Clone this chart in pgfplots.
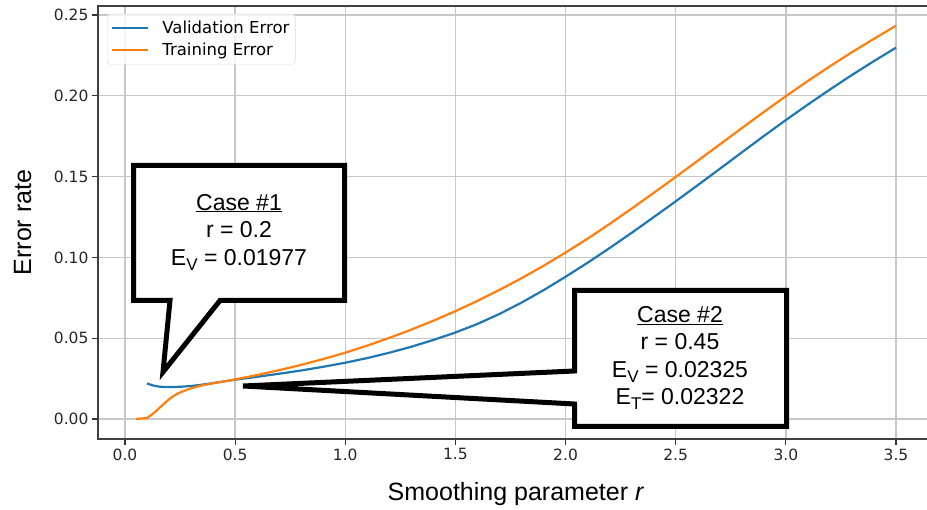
\documentclass[border=0pt]{standalone}
\usepackage{pgfplots}
\pgfplotsset{compat=1.18}
\usepackage{fontspec}
\setmainfont{Liberation Sans}
\newfontfamily\dejavu{DejaVu Sans}
\definecolor{mblue}{HTML}{1F77B4}
\definecolor{morange}{HTML}{FF7F0E}

\pgfplotstableread{
x y
0.10 0.0220
0.125 0.0208
0.15 0.0201
0.175 0.0198
0.20 0.01977
0.25 0.0199
0.30 0.0204
0.35 0.0212
0.40 0.0222
0.45 0.02325
0.50 0.0243
0.60 0.0261
0.70 0.0280
0.80 0.0300
0.90 0.0323
1.00 0.0348
1.10 0.0377
1.20 0.0410
1.30 0.0447
1.40 0.0489
1.50 0.0535
1.60 0.0588
1.70 0.0650
1.80 0.0720
1.90 0.0797
2.00 0.0880
2.10 0.0967
2.20 0.1058
2.30 0.1152
2.40 0.1249
2.50 0.1347
2.60 0.1447
2.70 0.1548
2.80 0.1650
2.90 0.1751
3.00 0.1850
3.10 0.1946
3.20 0.2039
3.30 0.2129
3.40 0.2215
3.50 0.2298
}\valtable

\pgfplotstableread{
x y
0.05 0.0000
0.10 0.0006
0.125 0.0030
0.15 0.0060
0.175 0.0092
0.20 0.0122
0.225 0.0146
0.25 0.0164
0.30 0.0190
0.35 0.0208
0.40 0.0221
0.45 0.02322
0.50 0.0245
0.60 0.0272
0.70 0.0302
0.80 0.0335
0.90 0.0371
1.00 0.0410
1.10 0.0454
1.20 0.0502
1.30 0.0553
1.40 0.0608
1.50 0.0667
1.60 0.0731
1.70 0.0799
1.80 0.0871
1.90 0.0948
2.00 0.1030
2.10 0.1116
2.20 0.1207
2.30 0.1302
2.40 0.1399
2.50 0.1498
2.60 0.1598
2.70 0.1699
2.80 0.1800
2.90 0.1900
3.00 0.1998
3.10 0.2092
3.20 0.2183
3.30 0.2270
3.40 0.2353
3.50 0.2434
}\traintable

\begin{document}
\begin{tikzpicture}
\begin{axis}[
  at={(98pt,71pt)}, anchor=south west,
  width=836pt, height=433pt, scale only axis,
  xmin=-0.1225, xmax=3.6725, ymin=-0.0124, ymax=0.2556,
  xtick={0,0.5,1,1.5,2,2.5,3,3.5},
  ytick={0,0.05,0.1,0.15,0.2,0.25},
  xticklabel style={/pgf/number format/.cd,fixed,fixed zerofill,precision=1},
  yticklabel style={/pgf/number format/.cd,fixed,fixed zerofill,precision=2},
  /pgf/number format/assume math mode=true,
  ticklabel style={font=\dejavu\fontsize{15.5}{18}\selectfont, text=black!85},
  tick pos=left, tick align=outside, major tick length=6pt,
  tick style={black!80, line width=1.2pt},
  axis line style={black!75, line width=1.4pt},
  grid=major, major grid style={black!22, line width=1.3pt},
  xlabel={Smoothing parameter \textit{r}},
  ylabel={Error rate},
  every axis x label/.style={at={(axis description cs:0.5,-0.141)}, anchor=base, font=\fontsize{25}{28}\selectfont},
  every axis y label/.style={at={(axis description cs:-0.09,0.5)}, rotate=90, anchor=center, font=\fontsize{25}{28}\selectfont},
  legend style={at={(axis description cs:0.0108,0.9815)}, anchor=north west,
    draw=black!15, fill=white, fill opacity=0.8, text opacity=1, rounded corners=3pt,
    font=\dejavu\fontsize{16.5}{19}\selectfont, cells={anchor=west},
    row sep=4pt, inner xsep=4pt, inner ysep=5pt},
  legend image code/.code={\draw[#1, line width=2.2pt] (0pt,0pt) -- (36pt,0pt);},
]
\addplot[mblue, line width=2.2pt] table[x=x,y=y] {\valtable};
\addlegendentry{\hspace{11pt}Validation Error}
\addplot[morange, line width=2.2pt] table[x=x,y=y] {\traintable};
\addlegendentry{\hspace{11pt}Training Error}
\end{axis}
\begin{scope}[shift={(0pt,510pt)}, x=1pt, y=-1pt]
\draw[line width=5pt, miter limit=4, fill=white] (133.5,165.5) -- (344.5,165.5) -- (344.5,300.5) -- (220,300.5) -- (163,372) -- (170,300.5) -- (133.5,300.5) -- cycle;
\node[align=center, font=\fontsize{23}{27.5}\selectfont] at (239,232) {\underline{Case \#1}\\ r = 0.2\\ E\raisebox{-5pt}{\fontsize{17}{17}\selectfont V} = 0.01977};
\draw[line width=5pt, miter limit=4, fill=white] (574.5,290.5) -- (786.5,290.5) -- (786.5,426.5) -- (574.5,426.5) -- (574.5,404) -- (243,386) -- (574.5,371) -- cycle;
\node[align=center, font=\fontsize{23}{27.5}\selectfont] at (680,358) {\underline{Case \#2}\\ r = 0.45\\ E\raisebox{-5pt}{\fontsize{17}{17}\selectfont V} = 0.02325\\ E\raisebox{-5pt}{\fontsize{17}{17}\selectfont T}= 0.02322};
\end{scope}
\pgfresetboundingbox
\path[use as bounding box] (0,0) rectangle (927pt,510pt);
\end{tikzpicture}
\end{document}
